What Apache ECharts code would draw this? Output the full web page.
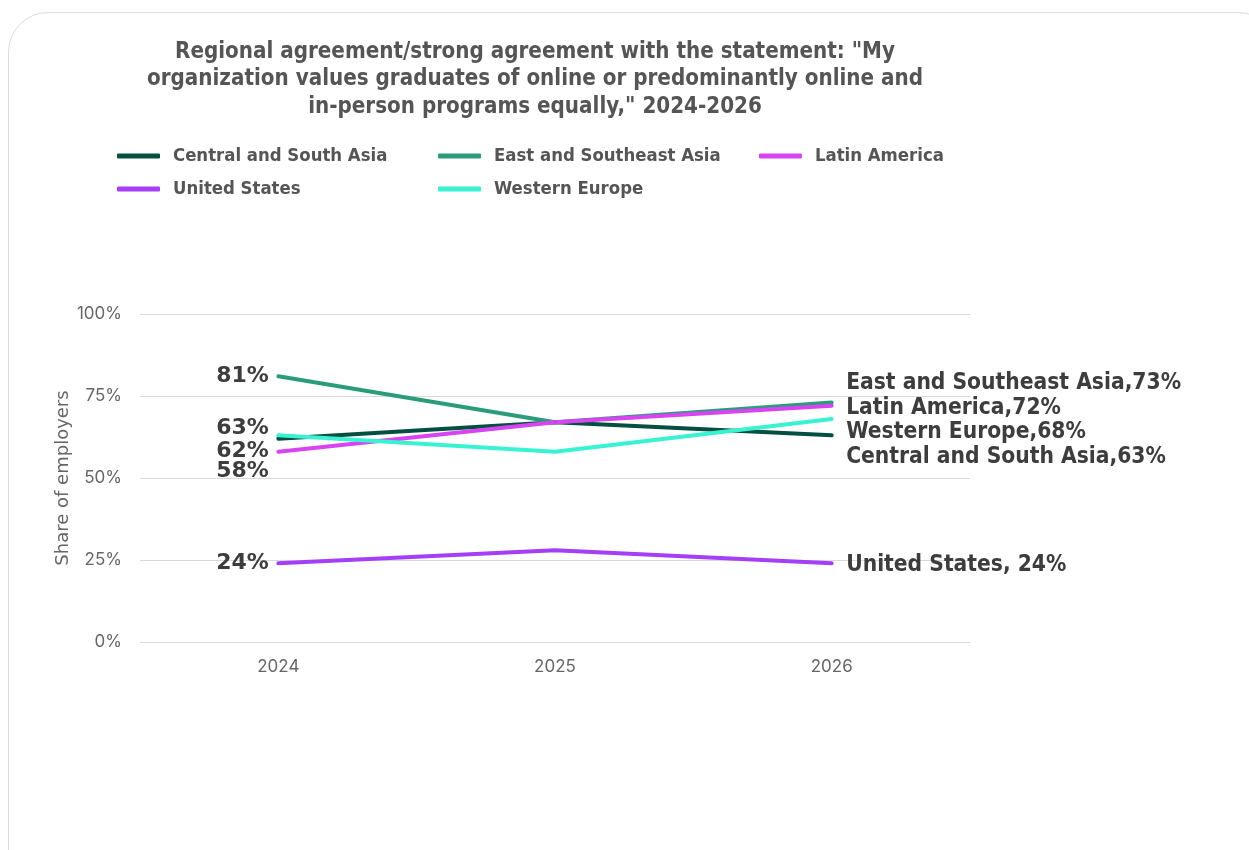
<!DOCTYPE html>
<html>
<head>
<meta charset="utf-8">
<script src="https://cdn.jsdelivr.net/npm/echarts@6/dist/echarts.min.js"></script>
<style>
  html, body { margin: 0; padding: 0; background: #fff; overflow: hidden; }
  #card {
    position: absolute; left: 8px; top: 12px; width: 1270px; height: 880px;
    border: 1px solid #dcdcdc; border-radius: 40px; background: #fff; box-sizing: border-box;
  }
  #chart { position: absolute; left: 0; top: 0; width: 1249px; height: 850px; }
</style>
</head>
<body>
<div id="card"></div>
<div id="chart"></div>
<script>
// Survey years on the category axis
const years = ['2024', '2025', '2026'];

// Share of employers agreeing (percent), one array per region
const centralSouthAsia = [62, 67, 63];
const eastSoutheastAsia = [81, 67, 73];
const latinAmerica = [58, 67, 72];
const unitedStates = [24, 28, 24];
const westernEurope = [63, 58, 68];

const yTicks = [0, 25, 50, 75, 100];

const titleText = 'Regional agreement/strong agreement with the statement: "My\norganization values graduates of online or predominantly online and\nin-person programs equally," 2024-2026';

const condensed = '"DejaVu Sans Condensed", "Liberation Sans Narrow", sans-serif';
const axisFont = 'Inter, sans-serif';
const wideBold = '"DejaVu Sans", sans-serif';
const labelInk = '#3d3d3d';

// name, values, colour, start-label nudge, end-label nudge, end-label separator
const regions = [
  { name: 'Central and South Asia', values: centralSouthAsia, color: '#044f40', startDy: 13, endDy: 22, sep: ',' },
  { name: 'East and Southeast Asia', values: eastSoutheastAsia, color: '#2a9c7a', startDy: 0, endDy: -19, sep: ',' },
  { name: 'Latin America', values: latinAmerica, color: '#d944f2', startDy: 20, endDy: 2, sep: ',' },
  { name: 'United States', values: unitedStates, color: '#a43ff7', startDy: 0, endDy: 2, sep: ', ' },
  { name: 'Western Europe', values: westernEurope, color: '#38f2d2', startDy: -7, endDy: 13, sep: ',' }
];

const legendSpots = [
  { left: 117, top: 147 }, { left: 438, top: 147 }, { left: 759, top: 147 },
  { left: 117, top: 180 }, { left: 438, top: 180 }
];

const series = regions.map(r => ({
  name: r.name,
  type: 'line',
  symbol: 'circle',
  symbolSize: 1,
  showSymbol: true,
  lineStyle: { width: 4, color: r.color, cap: 'round' },
  itemStyle: { color: r.color },
  emphasis: { disabled: true },
  z: 2,
  data: r.values.map((v, i) => {
    const item = { value: v };
    if (i === 0) {
      item.label = {
        show: true, position: 'left', distance: 9, offset: [0, r.startDy],
        formatter: '{c}%',
        fontFamily: wideBold, fontWeight: 'bold', fontSize: 22,
        color: labelInk
      };
    } else if (i === r.values.length - 1) {
      item.label = {
        show: true, position: 'right', distance: 14, offset: [0, r.endDy],
        formatter: r.name + r.sep + v + '%',
        fontFamily: condensed, fontWeight: 'bold', fontSize: 22.6,
        color: labelInk
      };
    }
    return item;
  })
}));

const chart = echarts.init(document.getElementById('chart'), null, { renderer: 'canvas' });

chart.setOption({
  animation: false,
  backgroundColor: 'transparent',
  title: {
    text: titleText,
    left: 535,
    top: 38,
    textAlign: 'center',
    padding: 0,
    textStyle: {
      fontFamily: condensed, fontWeight: 'bold', fontSize: 22.2,
      lineHeight: 27.5, color: '#555555', align: 'center'
    }
  },
  legend: regions.map((r, i) => ({
    data: [r.name],
    left: legendSpots[i].left,
    top: legendSpots[i].top,
    padding: 0,
    icon: 'roundRect',
    itemWidth: 43,
    itemHeight: 5,
    selectedMode: false,
    textStyle: {
      fontFamily: condensed, fontWeight: 'bold', fontSize: 18.4, color: '#555555',
      padding: [0, 0, 0, 8]
    }
  })),
  grid: { left: 140, right: 279, top: 314, bottom: 208, containLabel: false },
  xAxis: {
    type: 'category',
    data: years,
    boundaryGap: true,
    axisLine: { show: false },
    axisTick: { show: false },
    axisLabel: { color: '#666666', fontSize: 17, fontFamily: axisFont, margin: 16 }
  },
  yAxis: {
    type: 'value',
    min: yTicks[0],
    max: yTicks[yTicks.length - 1],
    interval: 25,
    name: 'Share of employers',
    nameLocation: 'middle',
    nameGap: 68,
    nameMoveOverlap: false,
    nameTextStyle: { color: '#666666', fontSize: 18, fontFamily: wideBold },
    axisLabel: { formatter: '{value}%', color: '#666666', fontSize: 17, fontFamily: axisFont, margin: 18 },
    axisLine: { show: false },
    axisTick: { show: false },
    splitLine: { lineStyle: { color: '#d9d9d9', width: 1 } }
  },
  series: series
});
</script>
</body>
</html>
